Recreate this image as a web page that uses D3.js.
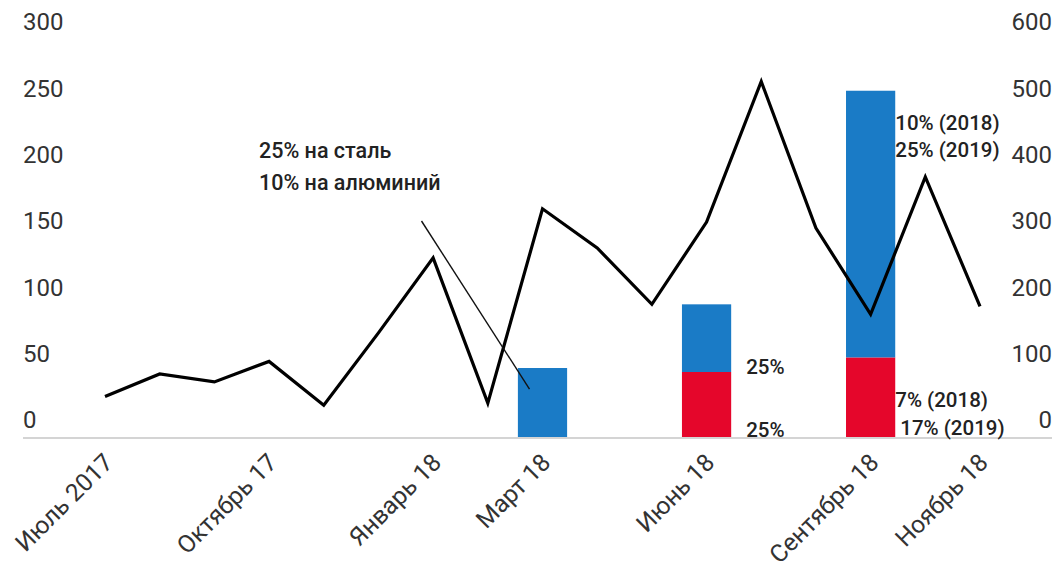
<!DOCTYPE html>
<html>
<head>
<meta charset="utf-8">
<script src="https://cdn.jsdelivr.net/npm/d3@7"></script>
<style>
  html, body { margin: 0; padding: 0; background: #fff; }
  svg { display: block; font-family: Roboto, "Noto Sans", sans-serif; }
</style>
</head>
<body>
<svg id="chart" width="1058" height="571"></svg>
<script>
// Monthly categories, July 2017 – November 2018
const months = ["2017-07","2017-08","2017-09","2017-10","2017-11","2017-12",
  "2018-01","2018-02","2018-03","2018-04","2018-05","2018-06",
  "2018-07","2018-08","2018-09","2018-10","2018-11"];

// Labelled months on the horizontal axis
const tickMonths = ["2017-07","2017-10","2018-01","2018-03","2018-06","2018-09","2018-11"];
const tickLabels = ["Июль 2017","Октябрь 17","Январь 18","Март 18","Июнь 18","Сентябрь 18","Ноябрь 18"];

// Line series (right axis)
const lineValues = [61, 95, 83, 114, 48, 157, 270, 51, 344, 285, 200, 324, 536, 315, 185, 392, 197];

// Tariff bars (left axis), stacked: red at the bottom, blue on top
const barMonths = ["2018-03","2018-06","2018-09"];
const redValues  = [0, 49, 60];
const blueValues = [52, 51, 201];

// Axis ticks
const leftTicks  = [0, 50, 100, 150, 200, 250, 300];
const rightTicks = [0, 100, 200, 300, 400, 500, 600];

// Rate labels beside the bars
const junTop = "25%", junBase = "25%";
const sepTop = ["10% (2018)", "25% (2019)"];
const sepBase = ["7% (2018)", "17% (2019)"];
const noteLines = ["25% на сталь", "10% на алюминий"];

const BLUE = "#1a7bc6", RED = "#e5062b";

const svg = d3.select("#chart");
const left = 23, right = 1052;

const x = d3.scalePoint().domain(months).range([105, 980]);
const step = x.step();
const barW = step * 0.9;
const y = d3.scaleLinear().domain([0, 300]).range([437, 39]);
const yR = d3.scaleLinear().domain([0, 600]).range([437, 39]);

// Left axis: labels sit just above their value
const gl = svg.append("g").attr("transform", `translate(${left},0)`)
  .call(d3.axisRight(y).tickValues(leftTicks).tickSize(0).tickPadding(0));
gl.select(".domain").remove();
gl.selectAll("text").attr("y", -17).attr("font-size", 24)
  .attr("font-family", "Roboto").attr("fill", "#333");

// Right axis
const gr = svg.append("g").attr("transform", `translate(${right},0)`)
  .call(d3.axisLeft(yR).tickValues(rightTicks).tickSize(0).tickPadding(0));
gr.select(".domain").remove();
gr.selectAll("text").attr("y", -17).attr("font-size", 24)
  .attr("font-family", "Roboto").attr("fill", "#333");

// Bars
const stackData = barMonths.map((m, i) => ({m, red: redValues[i], blue: blueValues[i]}));
svg.append("g").selectAll("rect").data(stackData.filter(d => d.red > 0)).join("rect")
  .attr("x", d => x(d.m) - barW / 2).attr("width", barW)
  .attr("y", d => y(d.red)).attr("height", d => y(0) - y(d.red))
  .attr("fill", RED);
svg.append("g").selectAll("rect").data(stackData).join("rect")
  .attr("x", d => x(d.m) - barW / 2).attr("width", barW)
  .attr("y", d => y(d.red + d.blue)).attr("height", d => y(d.red) - y(d.red + d.blue))
  .attr("fill", BLUE);

// Baseline
svg.append("line").attr("x1", left).attr("x2", right)
  .attr("y1", y(0) + 1).attr("y2", y(0) + 1)
  .attr("stroke", "#d4d4d4").attr("stroke-width", 2);

// Line series
svg.append("path").datum(lineValues)
  .attr("fill", "none").attr("stroke", "#000").attr("stroke-width", 3.2)
  .attr("stroke-linejoin", "miter")
  .attr("d", d3.line().x((d, i) => x(months[i])).y(d => yR(d)));

// X axis labels, rotated
const gx = svg.append("g").attr("transform", `translate(0,${y(0)})`)
  .call(d3.axisBottom(x).tickValues(tickMonths).tickSize(0).tickPadding(0)
    .tickFormat(m => tickLabels[tickMonths.indexOf(m)]));
gx.select(".domain").remove();
gx.selectAll("text")
  .attr("font-size", 24.5).attr("font-family", "Roboto").attr("fill", "#333")
  .attr("text-anchor", "end").attr("dy", null).attr("y", null)
  .attr("transform", "translate(9,27) rotate(-45)");

// Rate labels next to the bars
const noteG = svg.append("g").attr("font-size", 20.5).attr("font-weight", 500).attr("fill", "#222");
const iJun = barMonths.indexOf("2018-06"), iSep = barMonths.indexOf("2018-09");
const junX = x("2018-06") + barW / 2, sepX = x("2018-09") + barW / 2;
noteG.append("text").attr("x", junX + 15).attr("y", y(redValues[iJun]) + 2).text(junTop);
noteG.append("text").attr("x", junX + 15).attr("y", y(0)).text(junBase);
const sepTopY = y(redValues[iSep] + blueValues[iSep]);
sepTop.forEach((s, k) => {
  noteG.append("text").attr("x", sepX).attr("y", sepTopY + 39 + k * 27).text(s);
});
sepBase.forEach((s, k) => {
  noteG.append("text").attr("x", sepX + k * 5).attr("y", y(0) - 30 + k * 28).text(s);
});

// Steel / aluminium note with a pointer to the March bar
const mx = x("2018-03");
noteLines.forEach((s, k) => {
  noteG.append("text").attr("x", 259).attr("y", 158 + k * 32)
    .attr("font-size", 21.5).text(s);
});
svg.append("line")
  .attr("x1", mx - 121).attr("y1", 221)
  .attr("x2", mx - 13).attr("y2", y(blueValues[0]) + 21)
  .attr("stroke", "#111").attr("stroke-width", 1.4);
</script>
</body>
</html>
